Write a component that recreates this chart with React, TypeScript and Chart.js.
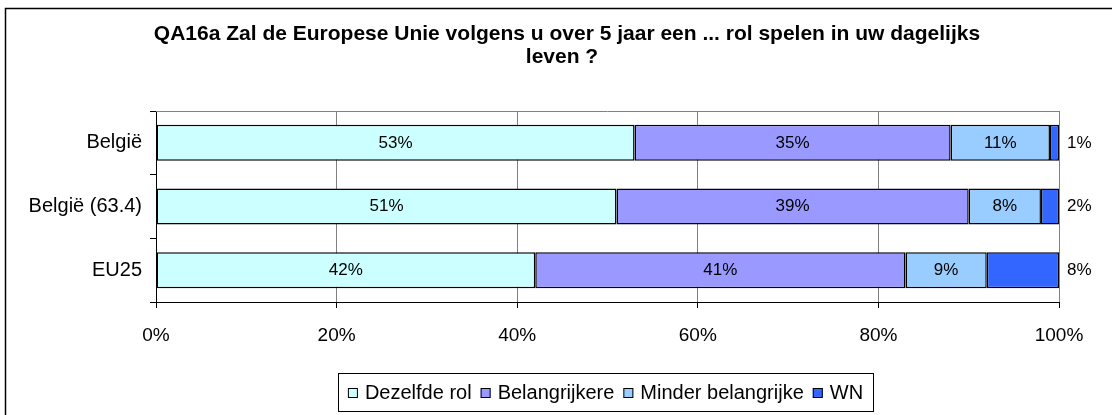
import React, { useEffect, useRef } from "react";
import { Chart, registerables } from "chart.js";

Chart.register(...registerables);

const categories = ["België", "België (63.4)", "EU25"];
const seriesNames = ["Dezelfde rol", "Belangrijkere", "Minder belangrijke", "WN"];
const dezelfde = [53, 51, 42];
const belangrijker = [35, 39, 41];
const minder = [11, 8, 9];
const wn = [1, 2, 8];
const xTicks = [0, 20, 40, 60, 80, 100];
const titleLines = [
  "QA16a Zal de Europese Unie volgens u over 5 jaar een ... rol spelen in uw dagelijks",
  "leven ?",
];
const colors = ["#CCFFFF", "#9999FF", "#99CCFF", "#3366FF"];

const FONT = "'Liberation Sans', Arial, sans-serif";

export default function App() {
  const ref = useRef<HTMLCanvasElement | null>(null);

  useEffect(() => {
    document.body.style.margin = "0";
    const canvas = ref.current;
    if (!canvas) return;

    const decor = {
      id: "decor",
      beforeDraw(chart: any) {
        const ctx = chart.ctx;
        ctx.save();
        ctx.fillStyle = "#fff";
        ctx.fillRect(0, 0, chart.width, chart.height);
        ctx.strokeStyle = "#000";
        ctx.lineWidth = 1.5;
        ctx.strokeRect(5.5, 8.5, chart.width + 20, chart.height + 20);
        ctx.restore();
      },
      afterDatasetsDraw(chart: any) {
        const ctx = chart.ctx;
        const a = chart.chartArea;
        ctx.save();
        ctx.strokeStyle = "#808080";
        ctx.lineWidth = 1;
        ctx.beginPath();
        ctx.moveTo(a.left, a.top + 0.5);
        ctx.lineTo(a.right, a.top + 0.5);
        ctx.stroke();

        ctx.fillStyle = "#000";
        ctx.font = `17px ${FONT}`;
        ctx.textBaseline = "middle";
        const n = chart.data.datasets.length;
        chart.data.datasets.forEach((ds: any, di: number) => {
          const meta = chart.getDatasetMeta(di);
          meta.data.forEach((el: any, i: number) => {
            const txt = ds.data[i] + "%";
            if (di === n - 1) {
              ctx.textAlign = "left";
              ctx.fillText(txt, a.right + 8, el.y);
            } else {
              ctx.textAlign = "center";
              ctx.fillText(txt, (el.x + el.base) / 2, el.y);
            }
          });
        });

        ctx.font = `bold 21px ${FONT}`;
        ctx.textAlign = "center";
        ctx.textBaseline = "middle";
        ctx.fillText(titleLines[0], 567, 34);
        ctx.fillText(titleLines[1], 562, 57);

        const bx = 338, by = 373, bw = 535, bh = 38;
        ctx.strokeStyle = "#000";
        ctx.lineWidth = 1;
        ctx.strokeRect(bx + 0.5, by + 0.5, bw, bh);
        ctx.font = `20px ${FONT}`;
        ctx.textAlign = "left";
        const items = chart.data.datasets.map((d: any) => ({
          label: d.label,
          color: d.backgroundColor,
          w: ctx.measureText(d.label).width,
        }));
        const sq = 10, gapIn = 7, gapOut = 9;
        const total = items.reduce((s: number, it: any) => s + sq + gapIn + it.w, 0) + gapOut * (items.length - 1);
        let x = bx + (bw - total) / 2;
        const cy = by + bh / 2 + 1;
        items.forEach((it: any) => {
          ctx.fillStyle = it.color;
          ctx.fillRect(x, cy - sq / 2, sq, sq);
          ctx.strokeStyle = "#000";
          ctx.strokeRect(x + 0.5, cy - sq / 2 + 0.5, sq - 1, sq - 1);
          x += sq + gapIn;
          ctx.fillStyle = "#000";
          ctx.fillText(it.label, x, cy);
          x += it.w + gapOut;
        });
        ctx.restore();
      },
    };

    const series = [dezelfde, belangrijker, minder, wn];
    const chart = new Chart(canvas, {
      type: "bar",
      data: {
        labels: categories,
        datasets: series.map((d, i) => ({
          label: seriesNames[i],
          data: d,
          backgroundColor: colors[i],
          borderColor: "#000",
          borderWidth: 1.5,
          borderSkipped: false,
          categoryPercentage: 1,
          barPercentage: 0.565,
        })),
      },
      options: {
        indexAxis: "y",
        responsive: false,
        animation: false,
        events: [],
        layout: { padding: { top: 111, right: 53, bottom: 0, left: 0 } },
        plugins: {
          legend: { display: false },
          title: { display: false },
          tooltip: { enabled: false },
        },
        scales: {
          x: {
            stacked: true,
            min: 0,
            max: 100,
            afterFit: (s: any) => {
              s.height = 113;
            },
            afterBuildTicks: (s: any) => {
              s.ticks = xTicks.map((v) => ({ value: v }));
            },
            ticks: {
              color: "#000",
              font: { family: FONT, size: 19 },
              padding: 16,
              callback: (v: any) => v + "%",
            },
            grid: {
              color: "#808080",
              lineWidth: 1,
              tickLength: 6,
              tickColor: "#000",
            },
            border: { color: "#000", width: 1 },
          },
          y: {
            stacked: true,
            afterFit: (s: any) => {
              s.width = 156;
            },
            ticks: {
              color: "#000",
              font: { family: FONT, size: 20 },
              padding: 8,
            },
            grid: {
              offset: true,
              drawOnChartArea: false,
              tickLength: 6,
              tickColor: "#000",
            },
            border: { color: "#000", width: 1 },
          },
        },
      },
      plugins: [decor],
    });
    return () => chart.destroy();
  }, []);

  return (
    <div style={{ position: "absolute", left: 0, top: 0, width: 1112, height: 415 }}>
      <canvas ref={ref} width={1112} height={415} style={{ width: 1112, height: 415 }} />
    </div>
  );
}
